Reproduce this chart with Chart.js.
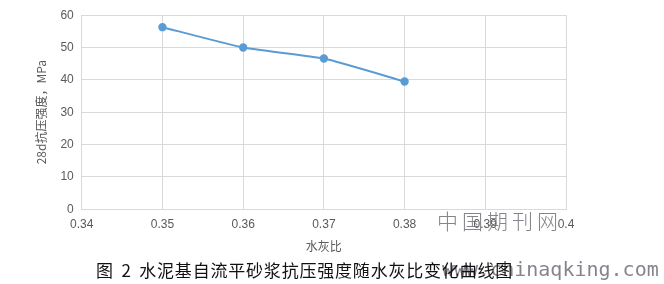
<!DOCTYPE html>
<html>
<head>
<meta charset="utf-8">
<script src="https://cdn.jsdelivr.net/npm/chart.js@4"></script>
<style>
  body { margin: 0; background: #fff; }
  #wrap { position: relative; width: 664px; height: 284px; overflow: hidden; }
  #caption {
    position: absolute; left: 96px; top: 257px; white-space: nowrap;
    font-family: "Noto Sans CJK SC", sans-serif; font-size: 17px; color: #111;
    word-spacing: 3px; letter-spacing: 0.8px;
  }
  .wm { position: absolute; white-space: nowrap; color: rgba(110,110,120,0.85); }
  #wm1 { left: 437px; top: 205px; font-family: "Noto Sans CJK SC", sans-serif; font-size: 21px; letter-spacing: 4px; font-weight: 300; }
  #wm2 { left: 442px; top: 257px; font-family: "DejaVu Sans Mono", monospace; font-size: 20px; }
</style>
</head>
<body>
<div id="wrap">
  <canvas id="myChart" width="664" height="284"></canvas>
  <div class="wm" id="wm2">www.chinaqking.com</div>
  <div id="caption">图 2 水泥基自流平砂浆抗压强度随水灰比变化曲线图</div>
  <div class="wm" id="wm1">中国期刊网</div>
</div>
<script>
// DATA
const ratios = [0.35, 0.36, 0.37, 0.38];
const strength = [56.3, 50.0, 46.6, 39.5];
const xTicks = [0.34, 0.35, 0.36, 0.37, 0.38, 0.39, 0.4];
const yTicks = [0, 10, 20, 30, 40, 50, 60];

const points = ratios.map(function (r, i) {
  return { x: r, y: strength[i] };
});

const ctx = document.getElementById("myChart");
const grey = "#d9d9d9";
const tickFont = { family: "Liberation Sans, Arial, sans-serif", size: 12 };

new Chart(ctx, {
  type: "line",
  data: {
    datasets: [
      {
        data: points,
        borderColor: "#5b9bd5",
        backgroundColor: "#5b9bd5",
        borderWidth: 2,
        pointRadius: 3.2,
        tension: 0.15,
      },
    ],
  },
  options: {
    responsive: false,
    animation: false,
    layout: { padding: { left: 30, right: 98, top: 8, bottom: 30 } },
    plugins: { legend: { display: false }, tooltip: { enabled: false } },
    scales: {
      x: {
        type: "linear",
        min: xTicks[0],
        max: xTicks[xTicks.length - 1],
        afterBuildTicks: function (axis) {
          axis.ticks = xTicks.map(function (v) { return { value: v }; });
        },
        ticks: {
          color: "#595959",
          font: tickFont,
          padding: 8,
          maxRotation: 0,
          callback: function (v) { return String(+v.toFixed(2)); },
        },
        grid: { color: grey, drawTicks: false },
        border: { color: grey },
        title: {
          display: true,
          text: "水灰比",
          color: "#595959",
          font: { family: "Noto Sans CJK SC, sans-serif", size: 12 },
          padding: { top: 0, bottom: 0 },
        },
      },
      y: {
        min: yTicks[0],
        max: yTicks[yTicks.length - 1],
        afterBuildTicks: function (axis) {
          axis.ticks = yTicks.map(function (v) { return { value: v }; });
        },
        ticks: { color: "#595959", font: tickFont, padding: 8 },
        grid: { color: grey, drawTicks: false },
        border: { color: grey },
        title: {
          display: true,
          text: "28d抗压强度，MPa",
          color: "#595959",
          font: { family: "Noto Sans CJK SC, sans-serif", size: 12 },
          padding: { bottom: 4 },
        },
      },
    },
  },
});
</script>
</body>
</html>
